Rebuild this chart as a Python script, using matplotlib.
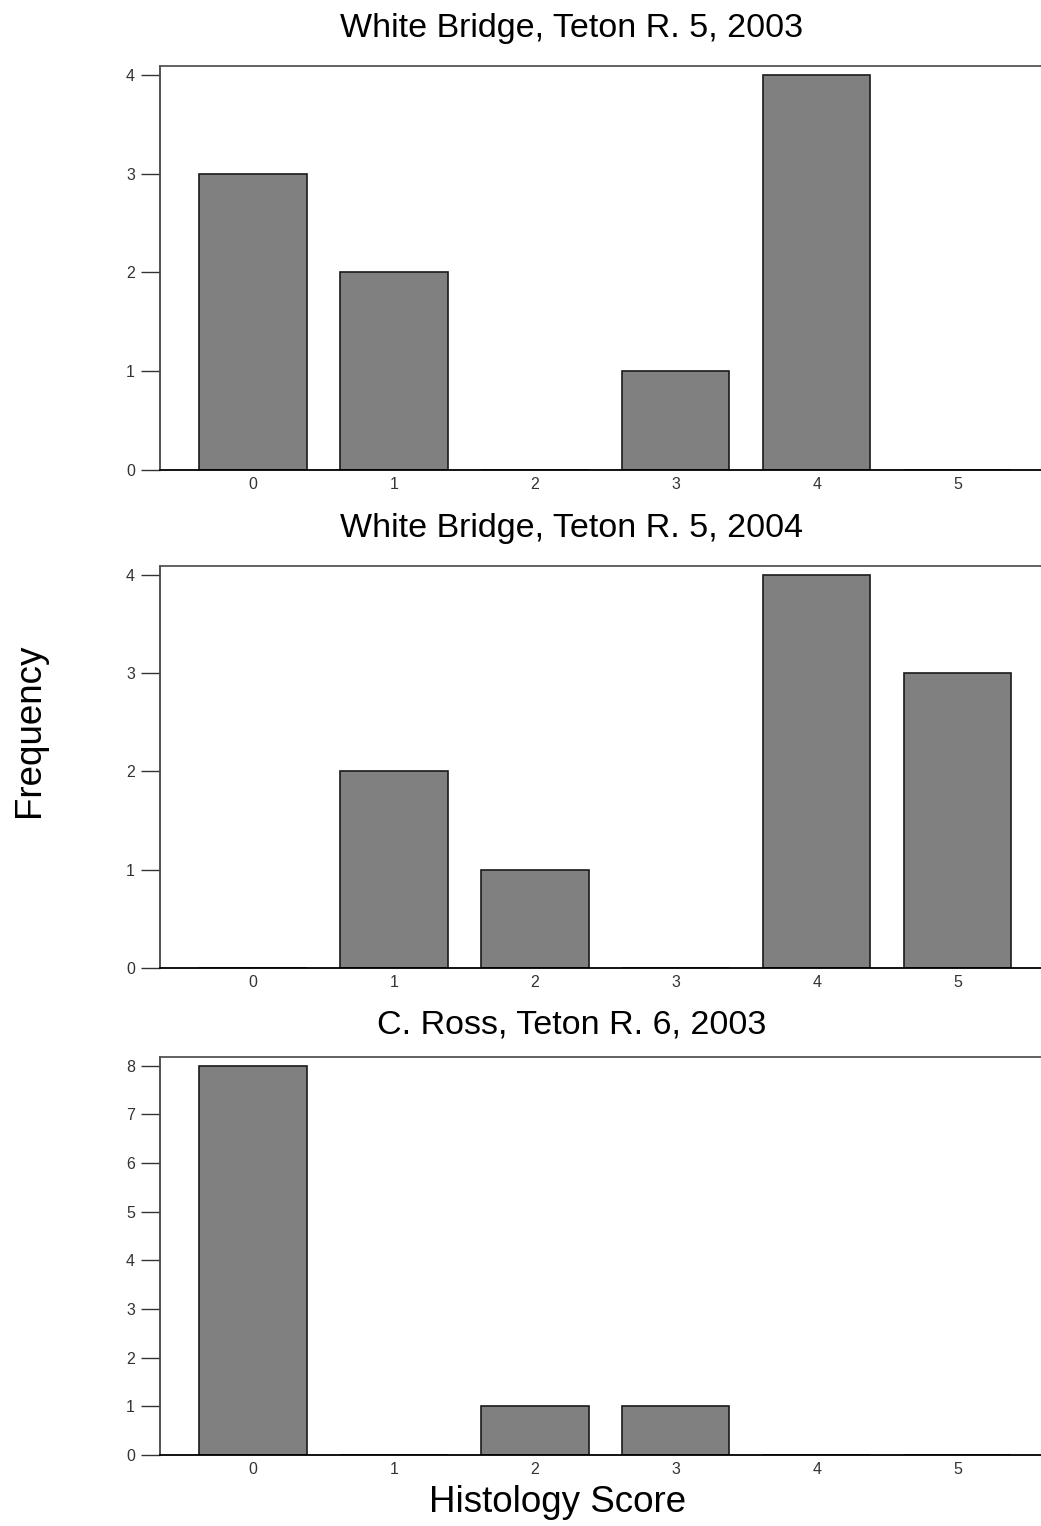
"""Histology score frequency histograms for three Teton River sites."""

import matplotlib

matplotlib.use("Agg")
import matplotlib.pyplot as plt

plt.rcParams["font.family"] = ["Liberation Sans", "DejaVu Sans"]

SCORES = [0, 1, 2, 3, 4, 5]
TITLES = [
    "White Bridge, Teton R. 5, 2003",
    "White Bridge, Teton R. 5, 2004",
    "C. Ross, Teton R. 6, 2003",
]
WB_2003 = [3, 2, 0, 1, 4, 0]
WB_2004 = [0, 2, 1, 0, 4, 3]
ROSS_2003 = [8, 0, 1, 1, 0, 0]
YMAX = [4, 4, 8]

W, H = 1041, 1526
fig = plt.figure(figsize=(W / 100, H / 100), dpi=100)


def panel(top_px, bottom_px, counts, ymax, title, title_y_px):
    left = 160 / W
    ax = fig.add_axes([left, 1 - bottom_px / H, 1 - left, (bottom_px - top_px) / H])
    ax.bar(SCORES, counts, width=0.76, color="#808080", edgecolor="#1a1a1a", linewidth=1.2)
    ax.set_xlim(-0.66, 5.59)
    ax.set_ylim(0, ymax + 0.09 * ymax / 4)
    ax.set_xticks(SCORES)
    ax.set_yticks(range(ymax + 1))
    ax.tick_params(axis="x", length=0, pad=5, labelsize=11.5, labelcolor="#333333")
    ax.tick_params(axis="y", length=14, width=1, pad=4, labelsize=11.5,
                   labelcolor="#333333", color="#333333")
    ax.spines["right"].set_visible(False)
    ax.spines["top"].set_color("#555555")
    ax.spines["left"].set_color("#444444")
    ax.spines["bottom"].set_color("#000000")
    for side in ("top", "left", "bottom"):
        ax.spines[side].set_linewidth(1.3)
    fig.text(572 / W, 1 - title_y_px / H, title, ha="center", va="center", fontsize=24.5)
    return ax


panel(66, 470, WB_2003, YMAX[0], TITLES[0], 28)
panel(566, 968, WB_2004, YMAX[1], TITLES[1], 528)
panel(1057, 1455, ROSS_2003, YMAX[2], TITLES[2], 1025)

fig.text(558 / W, 1 - 1503 / H, "Histology Score", ha="center", va="center", fontsize=26.5)
fig.text(30 / W, 1 - 730 / H, "Frequency", ha="center", va="center", fontsize=26.5,
         rotation=90)

fig.savefig("out.png", dpi=100)
